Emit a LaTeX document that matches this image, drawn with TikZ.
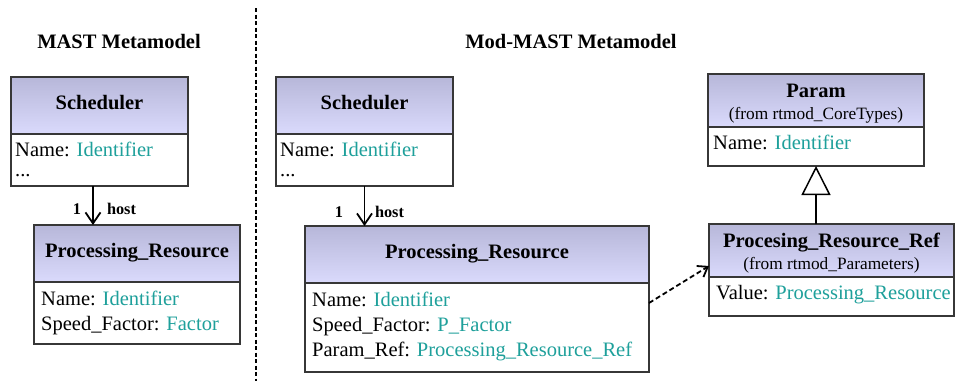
\documentclass[tikz,border=0pt]{standalone}
\usepackage{fontspec}
\setmainfont{Liberation Serif}
\usetikzlibrary{arrows.meta,calc}
\definecolor{tealtxt}{RGB}{30,160,155}
\definecolor{htop}{RGB}{183,183,217}
\definecolor{hbot}{RGB}{218,218,252}
\definecolor{bord}{RGB}{55,55,55}
\newcommand{\bigf}{\fontsize{20.5}{25}\selectfont}
\newcommand{\smallf}{\fontsize{17.3}{21}\selectfont}
\newcommand{\ty}[1]{\textcolor{tealtxt}{#1}}
\begin{document}
\begin{tikzpicture}[x=1pt,y=-1pt,
 hdr/.style={draw=bord, line width=1.4pt, top color=htop, bottom color=hbot, anchor=north west, inner sep=0pt, outer sep=0pt, align=center},
 hdrone/.style={hdr, font=\bigf\bfseries, text height=14pt, text depth=6pt},
 hdrtwo/.style={hdr, font=\fontsize{20.5}{21.5}\selectfont\bfseries},
 body/.style={draw=bord, line width=1.4pt, fill=white, anchor=north west, inner sep=0pt, outer sep=0pt},
 attr/.style={anchor=base west, inner sep=0pt, font=\bigf},
 ttl/.style={font=\bigf\bfseries, inner sep=0pt},
 mult/.style={font=\fontsize{16.3}{18}\selectfont\bfseries, inner sep=0pt},
 assoc/.style={line width=1.8pt, -{Straight Barb[length=11pt,width=15pt]}},
 depend/.style={line width=1.8pt, dash pattern=on 5pt off 3pt, -{Straight Barb[length=9pt,width=13pt]}},
 general/.style={line width=1.5pt, -{Triangle[open,length=29pt,width=29pt]}},
 divider/.style={line width=1.6pt, dash pattern=on 4pt off 2.5pt}
]
\useasboundingbox (0,0) rectangle (956,381);

% divider
\coordinate (dtop) at (256,8);
\coordinate (dbot) at (256,381);
\draw[divider] (dtop) -- (dbot);

% titles
\node[ttl] (t1) at (119,41) {MAST Metamodel};
\node[ttl] (t2) at (571,41) {Mod-MAST Metamodel};

% left Scheduler
\node[hdrone, minimum width=177pt, minimum height=57pt] (sh1) at (11,77) {Scheduler};
\node[body, minimum width=177pt, minimum height=52pt] (sb1) at (sh1.south west) {};
\node[attr] (sa1) at (15,156) {Name: \ty{Identifier}};
\node[attr] (sa1b) at (15,176) {...};

% left Processing_Resource
\node[hdrone, minimum width=206pt, minimum height=57pt] (ph1) at (34,225) {Processing\_Resource};
\node[body, minimum width=206pt, minimum height=62pt] (pb1) at (ph1.south west) {};
\node[attr] (pa1) at (41,305) {Name: \ty{Identifier}};
\node[attr] (pa1b) at (41,330) {Speed\_Factor: \ty{Factor}};

% middle Scheduler
\node[hdrone, minimum width=177pt, minimum height=57pt] (sh2) at (276,77) {Scheduler};
\node[body, minimum width=177pt, minimum height=52pt] (sb2) at (sh2.south west) {};
\node[attr] (sa2) at (280,156) {Name: \ty{Identifier}};
\node[attr] (sa2b) at (280,176) {...};

% middle Processing_Resource
\node[hdrone, minimum width=344pt, minimum height=57pt] (ph2) at (305,226) {Processing\_Resource};
\node[body, minimum width=344pt, minimum height=89pt] (pb2) at (ph2.south west) {};
\node[attr] (pa2) at (312,306) {Name: \ty{Identifier}};
\node[attr] (pa2b) at (312,331) {Speed\_Factor: \ty{P\_Factor}};
\node[attr] (pa2c) at (312,356) {Param\_Ref: \ty{Processing\_Resource\_Ref}};

% Param
\node[hdrtwo, minimum width=216pt, minimum height=53pt] (prh) at (708,74) {\rule{0pt}{20pt}Param\\{\smallf\mdseries (from rtmod\_CoreTypes)}};
\node[body, minimum width=216pt, minimum height=39pt] (prb) at (prh.south west) {};
\node[attr] (pra) at (713,149) {Name: \ty{Identifier}};

% Procesing_Resource_Ref
\node[hdrtwo, minimum width=245pt, minimum height=53pt] (rrh) at (709,224) {\rule{0pt}{20pt}Procesing\_Resource\_Ref\\{\smallf\mdseries (from rtmod\_Parameters)}};
\node[body, minimum width=245pt, minimum height=39pt] (rrb) at (rrh.south west) {};
\node[attr] (rra) at (716,299) {Value: \ty{Processing\_Resource}};

% associations
\path ($(sb1.south west)+(82,0)$) coordinate (a1);
\draw[assoc] (a1) -- (a1 |- ph1.north);
\node[mult] (m1) at (77,209) {1};
\node[mult] (r1) at (121.5,209) {host};

\draw[assoc] (sb2.south) -- (sb2.south |- ph2.north);
\node[mult] (m2) at (339,212) {1};
\node[mult] (r2) at (389.5,212) {host};

% generalization
\draw[general] (rrh.north -| prb.south) -- (prb.south);

% dependency
\draw[depend] ($(pb2.north east)+(0,20)$) -- ($(rrh.south west)+(0,-11)$);
\end{tikzpicture}
\end{document}
